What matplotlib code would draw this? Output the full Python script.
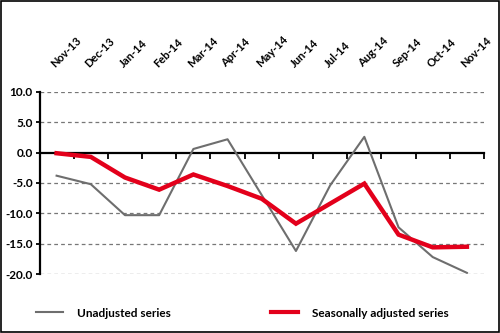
import matplotlib.pyplot as plt
import numpy as np
from matplotlib.lines import Line2D
from matplotlib.patches import Rectangle

plt.rcParams['font.family'] = ['Lato', 'DejaVu Sans']
plt.rcParams['font.weight'] = 'bold'

months = ['Nov-13', 'Dec-13', 'Jan-14', 'Feb-14', 'Mar-14', 'Apr-14', 'May-14',
          'Jun-14', 'Jul-14', 'Aug-14', 'Sep-14', 'Oct-14', 'Nov-14']
unadjusted = [-3.8, -5.2, -10.3, -10.3, 0.6, 2.2, -7.0, -16.2, -5.4, 2.6, -12.3, -17.2, -19.8]
seasonal = [-0.1, -0.7, -4.1, -6.1, -3.6, -5.5, -7.6, -11.7, -8.4, -5.1, -13.5, -15.6, -15.5]
yticks = [10, 5, 0, -5, -10, -15, -20]

fig = plt.figure(figsize=(5, 3.33), dpi=100)
ax = fig.add_axes([0.079, 0.177, 0.889, 0.547])

x = np.arange(len(months))
ax.plot(x, unadjusted, color='#6e6e6e', lw=1.5, zorder=3)
ax.plot(x, seasonal, color='#e3001b', lw=3.2, zorder=4, solid_joinstyle='miter')

ax.set_xlim(-0.5, len(months) - 0.5)
ax.set_ylim(-20, 10)
ax.set_yticks(yticks)
ax.set_yticklabels([f'{v:.1f}' for v in yticks], fontsize=8.5, fontweight='bold')
for v in yticks:
    if v != 0:
        ax.axhline(v, color='#777777', lw=0.9, ls=(0, (3, 2.5)), zorder=1)

for s in ['top', 'right']:
    ax.spines[s].set_visible(False)
ax.spines['left'].set_linewidth(1.6)
ax.spines['bottom'].set_position(('data', 0))
ax.spines['bottom'].set_linewidth(1.6)
ax.spines['bottom'].set_zorder(2)

ax.set_xticks(x)
ax.set_xticks(np.arange(len(months) + 1) - 0.5, minor=True)
ax.set_xticklabels(months, fontsize=8, fontweight='bold', rotation=45,
                   ha='left', va='bottom', rotation_mode='anchor')
ax.tick_params(axis='x', which='major', bottom=False, top=False,
               labelbottom=False, labeltop=True, pad=13)
ax.tick_params(axis='x', which='minor', bottom=True, direction='out',
               length=4, width=1.3)
ax.tick_params(axis='y', direction='out', length=3, width=1.3, pad=2)

handles = [Line2D([], [], color='#6e6e6e', lw=1.5),
           Line2D([], [], color='#e3001b', lw=3.0)]
fig.legend(handles[:1], ['Unadjusted series'], loc='center left',
           bbox_to_anchor=(0.05, 0.06), frameon=False, fontsize=8.5,
           handlelength=2.3, handletextpad=1.2)
fig.legend(handles[1:], ['Seasonally adjusted series'], loc='center left',
           bbox_to_anchor=(0.52, 0.06), frameon=False, fontsize=8.5,
           handlelength=2.3, handletextpad=1.2)

fig.patches.append(Rectangle((0.002, 0.003), 0.996, 0.994, transform=fig.transFigure,
                             fill=False, edgecolor='black', lw=1.2))

fig.savefig('out.png', dpi=100)
